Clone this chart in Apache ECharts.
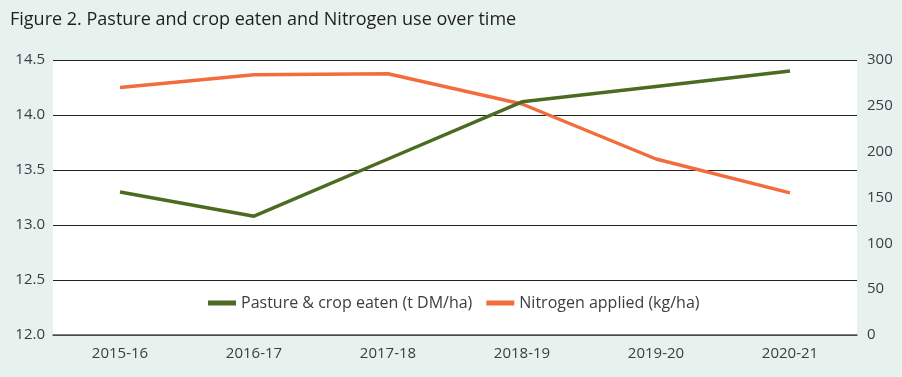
<!DOCTYPE html>
<html lang="en">
<head>
<meta charset="UTF-8">
<title>Pasture and crop eaten and Nitrogen use over time</title>
<script src="https://cdn.jsdelivr.net/npm/echarts@6/dist/echarts.min.js"></script>
<style>
  html, body { margin: 0; padding: 0; background: #e7f1ed; }
  #chart { width: 902px; height: 377px; }
</style>
</head>
<body>
<div id="chart"></div>
<script>
var seasons = ['2015-16', '2016-17', '2017-18', '2018-19', '2019-20', '2020-21'];
var pastureEaten = [13.3, 13.08, 13.6, 14.12, 14.26, 14.4];
var nitrogenApplied = [270, 284, 285, 252, 192, 155];

var font = 'Open Sans';
var textColor = '#3c3c46';

var myChart = echarts.init(document.getElementById('chart'));
var option = {
    backgroundColor: '#e7f1ed',
    textStyle: { fontFamily: font },
    title: {
        text: 'Figure 2. Pasture and crop eaten and Nitrogen use over time',
        left: 5,
        top: 6,
        textStyle: { fontFamily: font, fontSize: 18, fontWeight: 'normal', color: '#1e1e1e' }
    },
    legend: {
        bottom: 61,
        left: 203,
        itemWidth: 28,
        itemHeight: 5,
        itemGap: 14,
        icon: 'rect',
        textStyle: { fontFamily: font, fontSize: 16, color: textColor },
        data: ['Pasture & crop eaten (t DM/ha)', 'Nitrogen applied (kg/ha)']
    },
    grid: {
        left: 53,
        right: 45,
        top: 60,
        bottom: 42,
        show: true,
        backgroundColor: '#ffffff',
        borderWidth: 0
    },
    xAxis: {
        type: 'category',
        data: seasons,
        boundaryGap: true,
        axisTick: { show: false },
        axisLine: { show: true, lineStyle: { color: '#555', width: 1.5 } },
        axisLabel: { fontFamily: font, fontSize: 15, color: textColor, margin: 11 }
    },
    yAxis: [
        {
            type: 'value',
            min: 12,
            max: 14.5,
            interval: 0.5,
            axisLine: { show: false },
            axisTick: { show: false },
            axisLabel: {
                fontFamily: font, fontSize: 15, color: textColor, margin: 8,
                formatter: function (v) { return v.toFixed(1); }
            },
            splitLine: { lineStyle: { color: '#222', width: 1 } }
        },
        {
            type: 'value',
            min: 0,
            max: 300,
            interval: 50,
            position: 'right',
            axisLine: { show: false },
            axisTick: { show: false },
            axisLabel: { fontFamily: font, fontSize: 15, color: textColor, margin: 10 },
            splitLine: { show: false }
        }
    ],
    series: [
        {
            name: 'Pasture & crop eaten (t DM/ha)',
            type: 'line',
            yAxisIndex: 0,
            data: pastureEaten,
            symbol: 'none',
            color: '#4b6b23',
            lineStyle: { width: 3.5, color: '#4b6b23' },
            z: 3
        },
        {
            name: 'Nitrogen applied (kg/ha)',
            type: 'line',
            yAxisIndex: 1,
            data: nitrogenApplied,
            symbol: 'none',
            color: '#f26d3b',
            lineStyle: { width: 3.5, color: '#f26d3b' },
            z: 2
        }
    ]
};
myChart.setOption(option);
</script>
</body>
</html>
